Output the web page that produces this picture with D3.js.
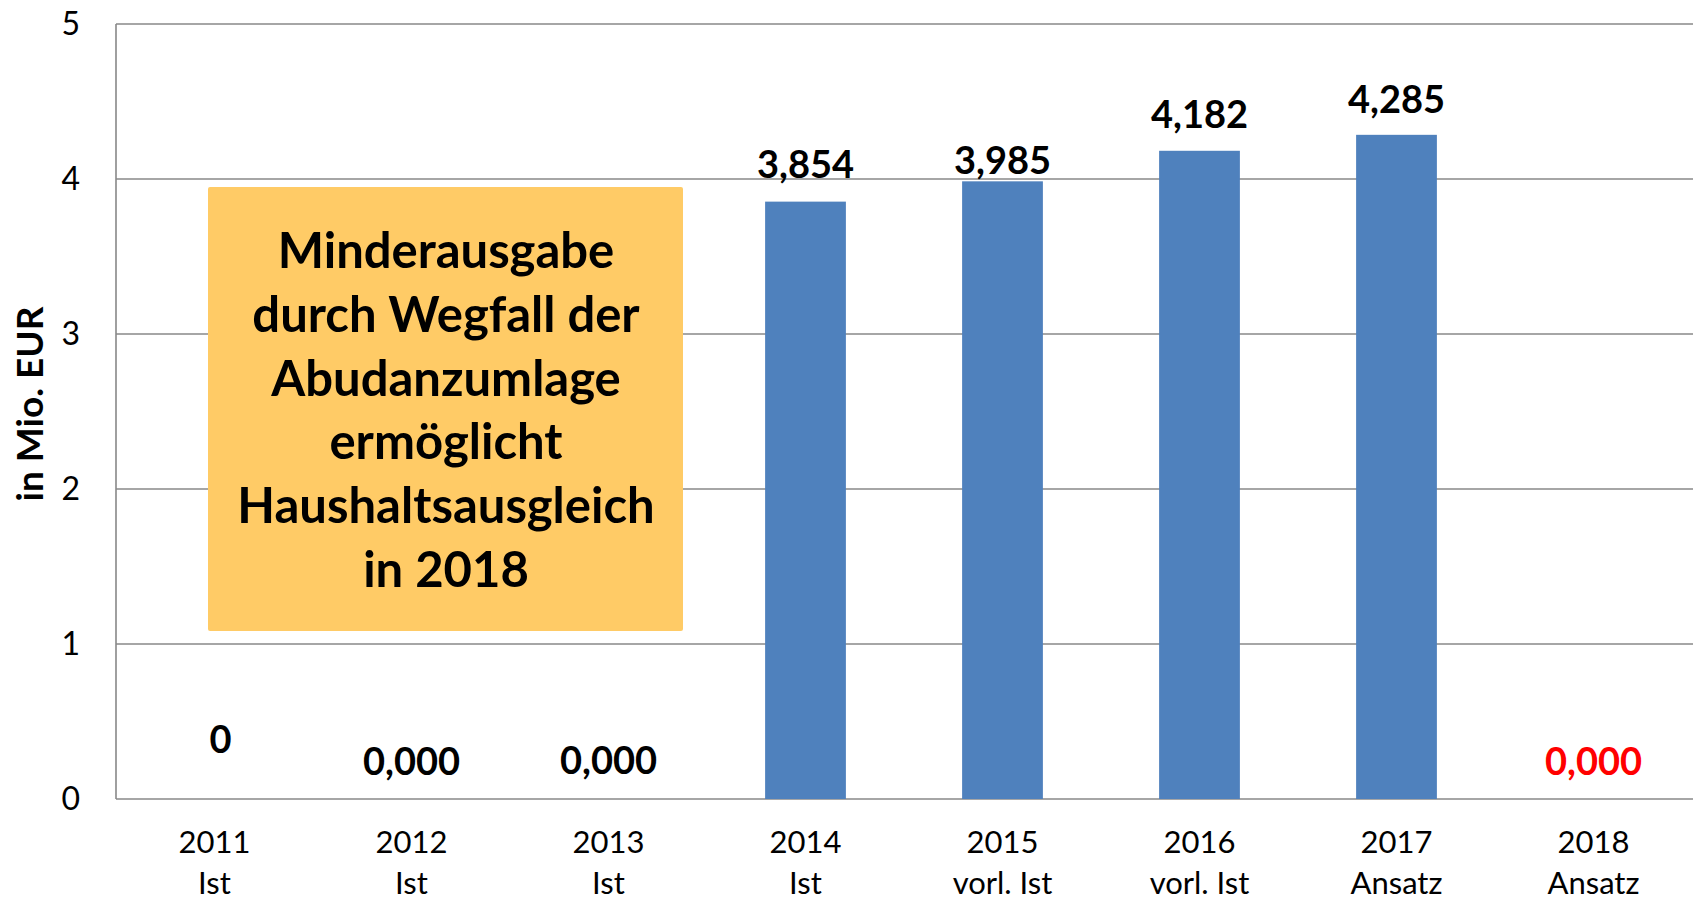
<!DOCTYPE html>
<html>
<head>
<meta charset="utf-8">
<script src="https://cdn.jsdelivr.net/npm/d3@7"></script>
<style>
  body { margin: 0; background: #fff; }
  text { font-family: Lato, "Open Sans", sans-serif; }
</style>
</head>
<body>
<div id="chart"></div>
<script>
// data
let years = ["2011", "2012", "2013", "2014", "2015", "2016", "2017", "2018"]
let status = ["Ist", "Ist", "Ist", "Ist", "vorl. Ist", "vorl. Ist", "Ansatz", "Ansatz"]
let values = [0, 0, 0, 3.854, 3.985, 4.182, 4.285, 0]
let labels = ["0", "0,000", "0,000", "3,854", "3,985", "4,182", "4,285", "0,000"]
let yTicks = [0, 1, 2, 3, 4, 5]
let boxLines = ["Minderausgabe", "durch Wegfall der", "Abudanzumlage", "ermöglicht", "Haushaltsausgleich", "in 2018"]

// distance of each value label above its bar top (labels were nudged by hand)
let labelGap = [46, 24, 25, 24, 7, 23, 22, 24]

let width = 1694, height = 905
let mLeft = 116, mRight = 1692, mTop = 24, mBottom = 799

let svg = d3.select("#chart").append("svg")
  .attr("width", width)
  .attr("height", height)

let x = d3.scaleBand()
  .domain(years)
  .range([mLeft, mRight])
  .padding(0)

let xc = d => x(d) + x.bandwidth() / 2
let barW = x.bandwidth() * 0.41

let y = d3.scaleLinear()
  .domain([0, 5])
  .range([mBottom, mTop])

// gridlines
svg.append("g")
  .selectAll("line")
  .data(yTicks)
  .enter()
  .append("line")
  .attr("x1", mLeft)
  .attr("x2", width - 1)
  .attr("y1", d => y(d))
  .attr("y2", d => y(d))
  .style("stroke", "#888")
  .style("stroke-width", 1.6)

// y axis line
svg.append("line")
  .attr("x1", mLeft).attr("x2", mLeft)
  .attr("y1", y(5)).attr("y2", y(0))
  .style("stroke", "#888")
  .style("stroke-width", 1.6)

// y tick labels
svg.append("g")
  .selectAll("text")
  .data(yTicks)
  .enter()
  .append("text")
  .attr("x", 80)
  .attr("y", d => y(d) + 11)
  .attr("text-anchor", "end")
  .style("font-size", "32px")
  .text(d => d)

// y axis title
svg.append("text")
  .attr("transform", "translate(43,404) rotate(-90)")
  .attr("text-anchor", "middle")
  .style("font-size", "37px")
  .style("font-weight", "bold")
  .text("in Mio. EUR")

// bars
svg.append("g")
  .selectAll("rect")
  .data(values)
  .enter()
  .append("rect")
  .attr("x", (d, i) => xc(years[i]) - barW / 2)
  .attr("width", barW)
  .attr("y", d => y(d))
  .attr("height", d => y(0) - y(d))
  .style("fill", "#4F81BD")

// value labels
svg.append("g")
  .selectAll("text")
  .data(values)
  .enter()
  .append("text")
  .attr("x", (d, i) => xc(years[i]) + (i == 0 ? 6 : 0))
  .attr("y", (d, i) => y(d) - labelGap[i])
  .attr("text-anchor", "middle")
  .style("font-size", "38px")
  .style("font-weight", "bold")
  .style("fill", (d, i) => i == years.length - 1 ? "#FF0000" : "#000")
  .text((d, i) => labels[i])

// category labels (two lines)
let cat = svg.append("g")
  .selectAll("text")
  .data(years)
  .enter()
  .append("text")
  .attr("text-anchor", "middle")
  .style("font-size", "31px")

cat.append("tspan")
  .attr("x", d => xc(d))
  .attr("y", 853)
  .text(d => d)

cat.append("tspan")
  .attr("x", d => xc(d))
  .attr("y", 894)
  .text((d, i) => status[i])

// annotation box
svg.append("rect")
  .attr("x", 208)
  .attr("y", 187)
  .attr("width", 475)
  .attr("height", 444)
  .attr("rx", 2)
  .style("fill", "#FFCB66")

svg.append("g")
  .selectAll("text")
  .data(boxLines)
  .enter()
  .append("text")
  .attr("x", 446)
  .attr("y", (d, i) => 268 + i * 63.8)
  .attr("text-anchor", "middle")
  .style("font-size", "49px")
  .style("font-weight", "bold")
  .text(d => d)
</script>
</body>
</html>
